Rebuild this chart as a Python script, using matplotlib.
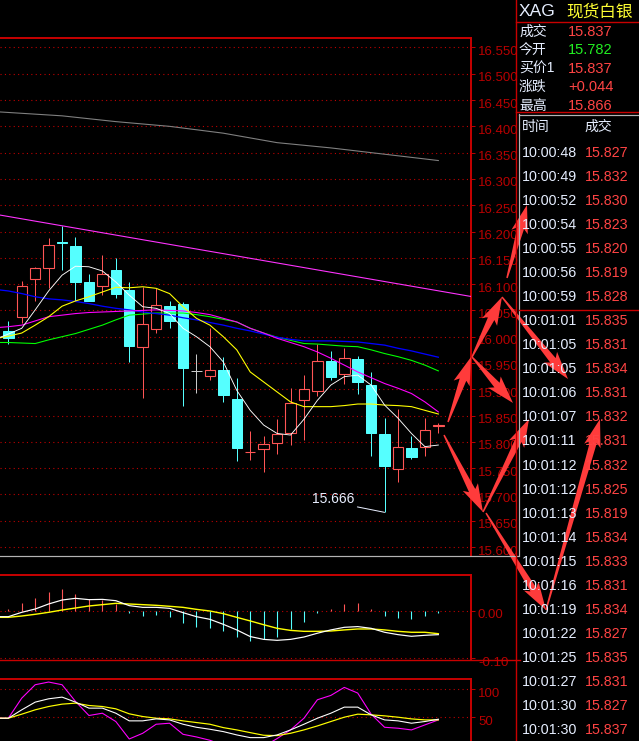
import numpy as np
import matplotlib
matplotlib.use("Agg")
import matplotlib.pyplot as plt
from matplotlib.patches import Rectangle, Polygon
from matplotlib.transforms import ScaledTranslation

plt.rcParams["font.family"] = ["Liberation Sans", "Noto Sans CJK SC", "DejaVu Sans"]

# ---- candles (index 0..32) ----
opens = [16.011, 16.038, 16.109, 16.130, 16.181, 16.172, 16.104, 16.097, 16.127, 16.089,
         15.981, 16.015, 16.059, 16.062, 15.934, 15.926, 15.936, 15.881, 15.780, 15.787,
         15.798, 15.817, 15.879, 15.897, 15.953, 15.930, 15.957, 15.908, 15.815, 15.749,
         15.788, 15.790, 15.830]
highs = [16.030, 16.106, 16.133, 16.187, 16.210, 16.189, 16.119, 16.155, 16.149, 16.104,
         16.095, 16.092, 16.068, 16.066, 15.967, 16.017, 15.962, 15.921, 15.821, 15.811,
         15.843, 15.903, 15.927, 15.986, 15.973, 15.978, 15.963, 15.932, 15.845, 15.862,
         15.812, 15.846, 15.835]
lows = [15.986, 16.026, 16.068, 16.093, 16.127, 16.068, 16.068, 16.079, 16.073, 15.952,
        15.884, 16.007, 16.017, 15.869, 15.893, 15.917, 15.876, 15.764, 15.765, 15.742,
        15.777, 15.795, 15.803, 15.887, 15.917, 15.911, 15.892, 15.774, 15.666, 15.724,
        15.767, 15.774, 15.817]
closes = [15.998, 16.096, 16.130, 16.175, 16.178, 16.104, 16.068, 16.120, 16.081, 15.983,
          16.025, 16.061, 16.030, 15.941, 15.934, 15.936, 15.890, 15.789, 15.781, 15.796,
          15.815, 15.873, 15.900, 15.953, 15.924, 15.959, 15.914, 15.817, 15.754, 15.790,
          15.772, 15.822, 15.832]

# ---- moving averages, index -1..32 ----
ma_white = [15.995, 16.005, 16.016, 16.051, 16.087, 16.117, 16.134, 16.133, 16.125, 16.104,
            16.079, 16.057, 16.054, 16.044, 16.016, 16.000, 15.981, 15.952, 15.898, 15.860,
            15.832, 15.816, 15.813, 15.843, 15.879, 15.908, 15.924, 15.927, 15.908, 15.870,
            15.845, 15.816, 15.791, 15.794]
ma_yellow = [15.996, 16.001, 16.007, 16.022, 16.038, 16.058, 16.068, 16.076, 16.085, 16.094,
             16.093, 16.095, 16.092, 16.082, 16.057, 16.035, 16.022, 16.000, 15.975, 15.933,
             15.914, 15.895, 15.876, 15.867, 15.867, 15.867, 15.869, 15.872, 15.872, 15.870,
             15.869, 15.867, 15.860, 15.853]
ma_magenta = [16.017, 16.019, 16.022, 16.030, 16.038, 16.041, 16.044, 16.046, 16.047, 16.048,
              16.049, 16.050, 16.051, 16.050, 16.049, 16.046, 16.042, 16.035, 16.028, 16.016,
              16.007, 15.997, 15.989, 15.981, 15.971, 15.959, 15.946, 15.933, 15.922, 15.911,
              15.902, 15.892, 15.876, 15.857]
ma_blue = [16.090, 16.087, 16.082, 16.076, 16.072, 16.070, 16.067, 16.063, 16.058, 16.054,
           16.051, 16.047, 16.044, 16.041, 16.036, 16.032, 16.027, 16.022, 16.016, 16.011,
           16.005, 15.999, 15.995, 15.992, 15.992, 15.992, 15.991, 15.990, 15.987, 15.984,
           15.978, 15.973, 15.967, 15.961]
ma_green = [15.989, 15.989, 15.988, 15.987, 15.994, 16.000, 16.006, 16.014, 16.022, 16.032,
            16.041, 16.043, 16.045, 16.045, 16.045, 16.042, 16.038, 16.033, 16.028, 16.016,
            16.007, 15.999, 15.993, 15.987, 15.986, 15.984, 15.982, 15.981, 15.975, 15.968,
            15.962, 15.955, 15.946, 15.935]
grey_idx = [-1, 4, 8, 12, 16, 20, 24, 28, 32]
ma_grey = [16.428, 16.420, 16.409, 16.400, 16.387, 16.369, 16.359, 16.347, 16.335]
trend_idx = [-1, 35]
trend_vals = [16.233, 16.074]
price_ticks = [16.55, 16.50, 16.45, 16.40, 16.35, 16.30, 16.25, 16.20, 16.15, 16.10,
               16.05, 16.00, 15.95, 15.90, 15.85, 15.80, 15.75, 15.70, 15.65, 15.60]

# ---- MACD ----
dif = [-0.012, -0.012, -0.0028, 0.0042, 0.0148, 0.0232, 0.0268, 0.024, 0.0246, 0.0218,
       0.0113, 0.0077, 0.0077, 0.0056, -0.0035, -0.012, -0.0176, -0.0282, -0.040, -0.054,
       -0.060, -0.062, -0.060, -0.055, -0.047, -0.040, -0.0345, -0.033, -0.0366, -0.045,
       -0.050, -0.0535, -0.0514, -0.050]
dea = [-0.0134, -0.0134, -0.0106, -0.007, -0.0028, 0.0021, 0.0063, 0.0106, 0.0134, 0.0162,
       0.0148, 0.0134, 0.012, 0.0099, 0.0077, 0.0035, 0.0, -0.0056, -0.0134, -0.021,
       -0.029, -0.0366, -0.041, -0.043, -0.043, -0.0423, -0.040, -0.038, -0.038, -0.040,
       -0.043, -0.045, -0.045, -0.048]
macd_hist = [0.0042, 0.017, 0.0275, 0.040, 0.0465, 0.036, 0.0254, 0.023, 0.0148, -0.0035,
             -0.0099, -0.0077, -0.012, -0.0246, -0.033, -0.035, -0.0415, -0.0556, -0.0627, -0.060,
             -0.054, -0.0373, -0.0225, -0.0035, 0.0042, 0.0148, 0.017, 0.0042, -0.0099, -0.014,
             -0.0162, -0.0099, -0.0035]

# ---- KDJ ----
kdj_k = [48.2, 48.2, 63.1, 76.8, 82.7, 85.7, 76.8, 66.1, 66.1, 57.1, 43.5, 43.5, 47, 45.2,
         37.5, 32.1, 28.6, 24.4, 18.5, 13.7, 13.7, 18.5, 27.4, 37.5, 48.2, 57.1, 67.9, 67.9,
         54.2, 45.2, 43.5, 39.3, 42.3, 46.4]
kdj_d = [48.2, 48.2, 55.4, 63.1, 69, 73.2, 75, 70.8, 69, 64.9, 56, 51.2, 48.2, 47, 43.5,
         40.5, 37.5, 31.5, 27.4, 22.6, 17.9, 17.3, 21.4, 27.4, 34.5, 42.3, 50, 55.4, 54.2,
         52.4, 50, 47, 45.2, 45.2]
kdj_j = [48.2, 48.2, 83.9, 107.7, 112.5, 107.7, 78, 53, 57.1, 42.3, 11.3, 21.4, 37.5, 39.3,
         19.6, 14.9, 9, 0, -6, -8, -2, 12, 27.4, 48.2, 81, 88.7, 103, 92.9, 55.4, 32.1,
         30.4, 27.4, 36.3, 45.2]

# ---- right panel ----
quote_labels = ["成交", "今开", "买价1", "涨跌", "最高"]
quote_values = ["15.837", "15.782", "15.837", "+0.044", "15.866"]
tick_times = ["10:00:48", "10:00:49", "10:00:52", "10:00:54", "10:00:55", "10:00:56",
              "10:00:59", "10:01:01", "10:01:05", "10:01:05", "10:01:06", "10:01:07",
              "10:01:11", "10:01:12", "10:01:12", "10:01:13", "10:01:14", "10:01:15",
              "10:01:16", "10:01:19", "10:01:22", "10:01:25", "10:01:27", "10:01:30",
              "10:01:30"]
tick_prices = [15.827, 15.832, 15.830, 15.823, 15.820, 15.819, 15.828, 15.835, 15.831,
               15.834, 15.831, 15.832, 15.831, 15.832, 15.825, 15.819, 15.834, 15.833,
               15.831, 15.834, 15.827, 15.835, 15.831, 15.827, 15.837]

# hand-drawn arrows on top (pixel coords: start -> tip)
arrows = [((448, 422), (471, 357)), ((472, 357), (502, 297)), ((507, 278), (527, 205)),
          ((502, 297), (568, 379)), ((472, 357), (513, 403)), ((444, 435), (483, 512)),
          ((483, 512), (529, 419)), ((486, 513), (546, 610)), ((546, 610), (600, 419))]

W, H = 639, 741
RED = "#ff5555"
CYAN = "#55ffff"
BORDER = "#c80000"
LABEL = "#b80000"
GRID = "#c00000"
PX = 0.72  # one pixel in points

fig = plt.figure(figsize=(W / 100, H / 100), dpi=100, facecolor="black")


def px_axes(x0, y0, x1, y1):
    ax = fig.add_axes([x0 / W, 1 - y1 / H, (x1 - x0) / W, (y1 - y0) / H])
    ax.set_facecolor("black")
    for s in ["left", "bottom"]:
        ax.spines[s].set_visible(False)
    for s in ["top", "right"]:
        ax.spines[s].set_color(BORDER)
        ax.spines[s].set_linewidth(1.4)
    ax.set_xticks([])
    ax.yaxis.tick_right()
    ax.tick_params(axis="y", colors=LABEL, labelcolor=LABEL, length=3, width=PX,
                   pad=2, labelsize=9.5)
    ax.grid(axis="y", color=GRID, linestyle=(0, (1, 3)), linewidth=1.1 * PX)
    ax.set_axisbelow(True)
    ax.set_xlim(-0.618, 34.43)
    return ax


idx = np.arange(len(opens))
line_idx = np.arange(-1, len(opens))

# ---------------- main price panel ----------------
ax = px_axes(0, 38, 471, 556)
ax.set_ylim(15.583, 16.568)
ax.set_yticks(price_ticks)
ax.set_yticklabels([f"{v:.3f}" for v in price_ticks])

bw = 0.78
for i, o, h, l, c in zip(idx, opens, highs, lows, closes):
    if c > o:
        ax.vlines(i, c, h, color=RED, lw=PX, zorder=3)
        ax.vlines(i, l, o, color=RED, lw=PX, zorder=3)
        ax.add_patch(Rectangle((i - bw / 2, o), bw, c - o, facecolor="black",
                               edgecolor=RED, lw=1.1 * PX, zorder=3))
    elif c < o:
        ax.vlines(i, l, h, color=CYAN, lw=PX, zorder=3)
        ax.add_patch(Rectangle((i - bw / 2, c), bw, o - c, facecolor=CYAN,
                               edgecolor=CYAN, lw=PX, zorder=3))
    else:
        ax.vlines(i, l, h, color="#c8c8c8", lw=PX, zorder=3)
        ax.hlines(o, i - bw / 2, i + bw / 2, color="#c8c8c8", lw=PX, zorder=3)

ax.plot(grey_idx, ma_grey, color="#808080", lw=1.1 * PX, zorder=4)
ax.plot(trend_idx, trend_vals, color="#ff33ff", lw=1.1 * PX, zorder=4)
ax.plot(line_idx, ma_green, color="#00ff00", lw=1.1 * PX, zorder=4)
ax.plot(line_idx, ma_blue, color="#0000ff", lw=1.3 * PX, zorder=4)
ax.plot(line_idx, ma_magenta, color="#ff00ff", lw=1.1 * PX, zorder=4)
ax.plot(line_idx, ma_yellow, color="#ffff00", lw=1.1 * PX, zorder=4)
ax.plot(line_idx, ma_white, color="#ffffff", lw=0.9 * PX, zorder=5)

lo_i = int(np.argmin(lows))
ax.annotate(f"{lows[lo_i]:.3f}", xy=(lo_i, lows[lo_i]), xytext=(-30, 13),
            textcoords="offset pixels", ha="right", va="center", fontsize=10,
            color="#e8eeff", zorder=6,
            arrowprops=dict(arrowstyle="-", color="#e8eeff", lw=PX, shrinkA=0,
                            shrinkB=0, relpos=(1, 0)))

# ---------------- MACD panel ----------------
ax2 = px_axes(0, 575, 471, 660)
ax2.set_ylim(-0.1036, 0.0761)
ax2.set_yticks([0.0, -0.10])
ax2.set_yticklabels(["0.00", "-0.10"])
hist = np.array(macd_hist)
ax2.vlines(idx[hist >= 0], 0, hist[hist >= 0], color=RED, lw=1.1 * PX, zorder=3)
ax2.vlines(idx[hist < 0], 0, hist[hist < 0], color=CYAN, lw=1.1 * PX, zorder=3)
ax2.plot(line_idx, dea, color="#ffff00", lw=1.4 * PX, zorder=4)
ax2.plot(line_idx, dif, color="#ffffff", lw=1.2 * PX, zorder=5)

# ---------------- KDJ panel ----------------
ax3 = px_axes(0, 679, 471, 741)
ax3.set_ylim(7.7, 117.9)
ax3.set_yticks([100, 50])
ax3.set_yticklabels(["100", "50"])
ax3.plot(line_idx, kdj_j, color="#ff00ff", lw=1.1 * PX, zorder=3)
ax3.plot(line_idx, kdj_d, color="#ffff00", lw=1.2 * PX, zorder=4)
ax3.plot(line_idx, kdj_k, color="#ffffff", lw=1.1 * PX, zorder=5)

# nudge axis labels a bit below their grid line, like the terminal does
for a in (ax, ax2, ax3):
    for lab in a.get_yticklabels():
        lab.set_transform(lab.get_transform() + ScaledTranslation(0, -3 / 100, fig.dpi_scale_trans))

# ---------------- overlay: frame lines, quote panel, arrows ----------------
ov = fig.add_axes([0, 0, 1, 1], zorder=10)
ov.set_xlim(0, W)
ov.set_ylim(H, 0)
ov.axis("off")
ov.patch.set_alpha(0)

ov.plot([0, 518], [556, 556], color="#b4b4b4", lw=1.2 * PX)
ov.plot([0, 520], [660, 660], color=BORDER, lw=1.4 * PX)
ov.plot([516, 516], [0, H], color=BORDER, lw=1.4 * PX)
ov.plot([518.5, 518.5], [114, 556], color="#b4b4b4", lw=1.2 * PX)
ov.plot([516, W], [22, 22], color=BORDER, lw=1.4 * PX)
ov.plot([516, W], [112, 112], color=BORDER, lw=1.4 * PX)
ov.plot([518.5, W], [114.5, 114.5], color="#b4b4b4", lw=1.2 * PX)
ov.plot([519, W], [310, 310], color=BORDER, lw=1.4 * PX)

txt = "#e6eeff"
ov.text(519, 12, "XAG", color=txt, fontsize=12.5, va="center", ha="left")
ov.text(566, 12, "现货白银", color="#ffff33", fontsize=12, va="center", ha="left",
        family=["Noto Sans CJK SC", "DejaVu Sans"])
for k, (lab, val) in enumerate(zip(quote_labels, quote_values)):
    y = 32 + k * 18.4
    ov.text(519, y, lab, color=txt, fontsize=10, va="center", ha="left")
    ov.text(568, y, val, color="#22ee22" if lab == "今开" else "#ff4444",
            fontsize=10.5, va="center", ha="left")

ov.text(522, 127, "时间", color=txt, fontsize=10, va="center", ha="left")
ov.text(584, 127, "成交", color=txt, fontsize=10, va="center", ha="left")
for k, (t, p) in enumerate(zip(tick_times, tick_prices)):
    y = 153 + k * 24.04
    ov.text(522, y, t, color=txt, fontsize=10.3, va="center", ha="left")
    ov.text(585, y, f"{p:.3f}", color="#ff4444", fontsize=10.3, va="center", ha="left")


def arrow_poly(s, t, head_len=24, head_w=17, shaft_w=7, tail_w=1.5):
    s = np.array(s, float)
    t = np.array(t, float)
    u = (t - s) / np.linalg.norm(t - s)
    n = np.array([-u[1], u[0]])
    b = t - u * head_len
    return [s + n * tail_w / 2, b + n * shaft_w / 2, b - u * 4 + n * head_w / 2, t,
            b - u * 4 - n * head_w / 2, b - n * shaft_w / 2, s - n * tail_w / 2]


for s, t in arrows:
    ov.add_patch(Polygon(arrow_poly(s, t), closed=True, facecolor="#ff3b3b",
                         edgecolor="none"))

fig.savefig("out.png", dpi=100, facecolor="black")
